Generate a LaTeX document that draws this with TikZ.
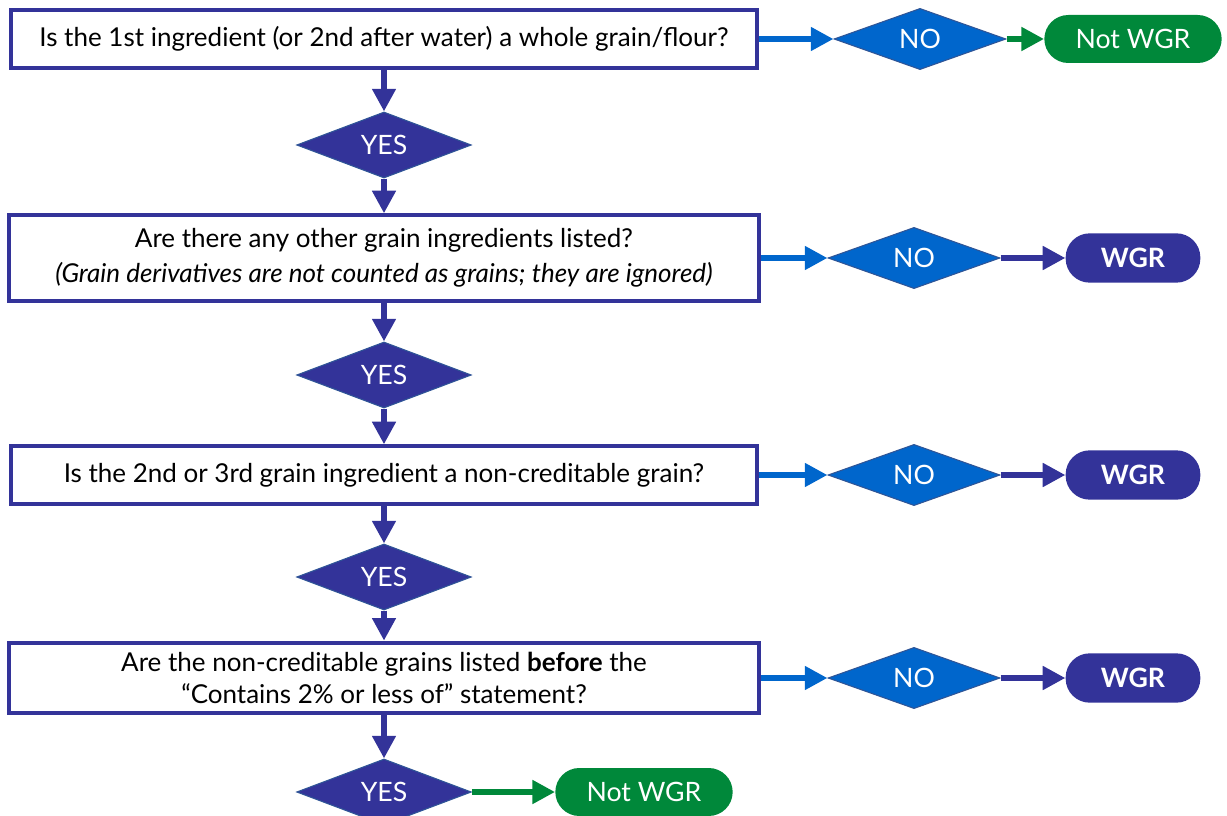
\documentclass[tikz,border=0pt]{standalone}
\usepackage{fontspec}
\setmainfont{Lato}
\usetikzlibrary{shapes.geometric,arrows.meta}
\definecolor{qblue}{RGB}{51,51,153}
\definecolor{nblue}{RGB}{0,102,204}
\definecolor{dedge}{RGB}{47,85,151}
\definecolor{mgreen}{RGB}{0,136,58}

\begin{document}
\begin{tikzpicture}[x=0.75pt, y=-0.75pt,
    question/.style={rectangle, draw=qblue, line width=3pt, fill=white, inner sep=0pt, align=center, font=\fontsize{19.5}{23.5}\selectfont},
    yesdia/.style={diamond, draw=dedge, line width=0.8pt, fill=qblue, text=white, inner sep=0pt, minimum width=131pt, minimum height=45pt, font=\fontsize{20}{23}\selectfont},
    nodia/.style={yesdia, fill=nblue, minimum width=129pt, minimum height=41pt},
    result/.style={rectangle, rounded corners=18pt, fill=qblue, text=white, inner sep=0pt, minimum width=101pt, minimum height=37pt, font=\bfseries\fontsize{20}{23}\selectfont},
    notresult/.style={result, fill=mgreen, minimum width=133pt, minimum height=36pt, font=\fontsize{20}{23}\selectfont},
    flow/.style={-{Triangle[length=17pt, width=17pt]}, line width=4.5pt, draw=qblue}]
    \useasboundingbox (0,0) rectangle (1227,816);

    \node[question, minimum width=559.5pt, minimum height=43.5pt] (q1) at (384,39) {Is the 1st ingredient (or 2nd after water) a whole grain/flour?};
    \node[yesdia] (yes1) at (384,145) {YES};
    \node[question, minimum width=562.5pt, minimum height=64pt] (q2) at (384,258) {Are there any other grain ingredients listed?\\[3pt]\itshape (Grain derivatives are not counted as grains; they are ignored)};
    \node[yesdia] (yes2) at (384,375) {YES};
    \node[question, minimum width=559.5pt, minimum height=43pt] (q3) at (384,475) {Is the 2nd or 3rd grain ingredient a non-creditable grain?};
    \node[yesdia] (yes3) at (384,577) {YES};
    \node[question, minimum width=562.5pt, minimum height=53pt] (q4) at (384,678) {Are the non-creditable grains listed \textbf{before} the\\“Contains 2\% or less of” statement?};
    \node[yesdia] (yes4) at (384,792) {YES};

    \node[nodia] (no1) at (920,39) {NO};
    \node[nodia] (no2) at (914,258) {NO};
    \node[nodia] (no3) at (914,475) {NO};
    \node[nodia] (no4) at (914,678) {NO};

    \node[notresult] (notwgr1) at (1133,39) {Not WGR};
    \node[result] (wgr2) at (1133,258) {WGR};
    \node[result] (wgr3) at (1133,475) {WGR};
    \node[result] (wgr4) at (1133,678) {WGR};
    \node[notresult] (notwgr5) at (644,792) {Not WGR};

    \draw[flow] (q1) -- (yes1);
    \draw[flow] (yes1) -- (q2);
    \draw[flow] (q2) -- (yes2);
    \draw[flow] (yes2) -- (q3);
    \draw[flow] (q3) -- (yes3);
    \draw[flow] (yes3) -- (q4);
    \draw[flow] (q4) -- (yes4);

    \draw[flow, draw=nblue] (q1) -- (no1);
    \draw[flow, draw=nblue] (q2) -- (no2);
    \draw[flow, draw=nblue] (q3) -- (no3);
    \draw[flow, draw=nblue] (q4) -- (no4);

    \draw[flow, draw=mgreen] (no1) -- (notwgr1);
    \draw[flow] (no2) -- (wgr2);
    \draw[flow] (no3) -- (wgr3);
    \draw[flow] (no4) -- (wgr4);
    \draw[flow, draw=mgreen] (yes4) -- (notwgr5);
\end{tikzpicture}
\end{document}
